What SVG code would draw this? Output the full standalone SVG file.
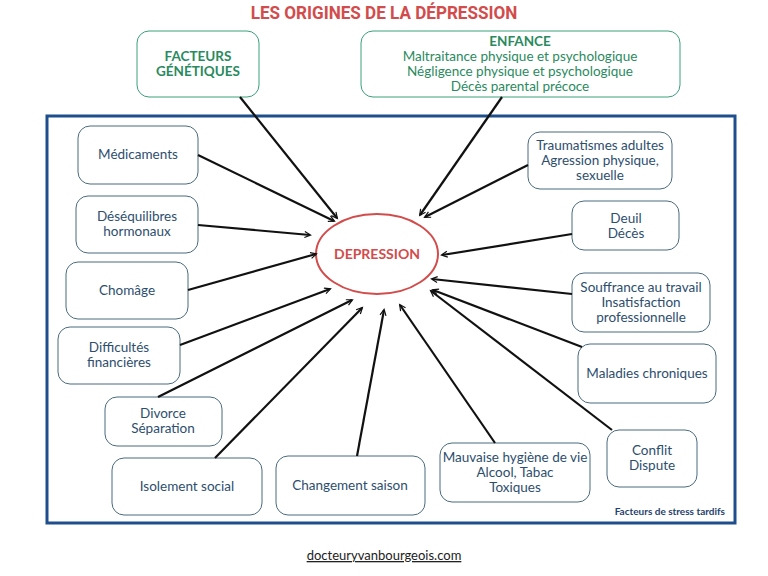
<svg xmlns="http://www.w3.org/2000/svg" width="768" height="576" viewBox="0 0 768 576">
<defs>
<marker id="ah" viewBox="0 0 10 10" refX="9" refY="5" markerWidth="6" markerHeight="6" orient="auto" markerUnits="userSpaceOnUse" overflow="visible"><path d="M0,0 L10,5 L0,10" fill="none" stroke="#111" stroke-width="2"/></marker>
<style>
.n{fill:#fff;stroke:#4a6a80;stroke-width:1}
.g{fill:#fff;stroke:#3aa07a;stroke-width:1}
.t{font-family:Lato,"Open Sans",sans-serif;font-size:13.5px;fill:#2d4e6e;text-anchor:middle}
.tg{font-family:Lato,"Open Sans",sans-serif;font-size:13.5px;fill:#2a8a5e;text-anchor:middle}
.c line{stroke:#111;stroke-width:2.2;marker-end:url(#ah)}
</style>
</defs>
<rect width="768" height="576" fill="#fff"/>
<text x="384" y="19" font-family="Roboto,'Liberation Sans',sans-serif" font-size="19" font-weight="bold" fill="#d24c4c" text-anchor="middle" transform="translate(384 0) scale(0.9 1) translate(-384 0)">LES ORIGINES DE LA DÉPRESSION</text>
<rect x="47" y="116" width="688" height="407" fill="none" stroke="#1f4e8c" stroke-width="3"/>
<g id="genetiques"><rect class="g" x="137" y="31" width="122" height="66" rx="12"/><text class="tg" font-weight="bold" x="198" y="61">FACTEURS</text><text class="tg" font-weight="bold" x="198" y="76">GÉNÉTIQUES</text></g>
<g id="enfance"><rect class="g" x="361" y="31" width="319" height="66" rx="12"/><text class="tg" font-weight="bold" x="520" y="46">ENFANCE</text><text class="tg" x="520" y="61">Maltraitance physique et psychologique</text><text class="tg" x="520" y="76">Négligence physique et psychologique</text><text class="tg" x="520" y="91">Décès parental précoce</text></g>
<g id="depression"><ellipse cx="377" cy="254" rx="61" ry="40" fill="#fff" stroke="#d24c4c" stroke-width="2"/><text x="377" y="259" font-family="Lato,'Open Sans',sans-serif" font-size="14" font-weight="bold" fill="#d24c4c" text-anchor="middle">DEPRESSION</text></g>
<g id="medicaments"><rect class="n" x="78" y="126" width="120" height="58" rx="12"/><text class="t" x="138" y="159">Médicaments</text></g>
<g id="hormonaux"><rect class="n" x="76" y="196" width="122" height="57" rx="12"/><text class="t" x="137" y="221">Déséquilibres</text><text class="t" x="137" y="236">hormonaux</text></g>
<g id="chomage"><rect class="n" x="66" y="262" width="122" height="57" rx="12"/><text class="t" x="127" y="295">Chomâge</text></g>
<g id="financieres"><rect class="n" x="58" y="327" width="122" height="57" rx="12"/><text class="t" x="119" y="352">Difficultés</text><text class="t" x="119" y="367">financières</text></g>
<g id="divorce"><rect class="n" x="105" y="397" width="117" height="49" rx="12"/><text class="t" x="163" y="418">Divorce</text><text class="t" x="163" y="433">Séparation</text></g>
<g id="isolement"><rect class="n" x="112" y="458" width="150" height="57" rx="12"/><text class="t" x="187" y="491">Isolement social</text></g>
<g id="saison"><rect class="n" x="276" y="456" width="149" height="59" rx="12"/><text class="t" x="350" y="490">Changement saison</text></g>
<g id="hygiene"><rect class="n" x="440" y="443" width="150" height="59" rx="12"/><text class="t" x="515" y="462">Mauvaise hygiène de vie</text><text class="t" x="515" y="477">Alcool, Tabac</text><text class="t" x="515" y="492">Toxiques</text></g>
<g id="conflit"><rect class="n" x="607" y="430" width="90" height="57" rx="12"/><text class="t" x="652" y="455">Conflit</text><text class="t" x="652" y="470">Dispute</text></g>
<g id="maladies"><rect class="n" x="578" y="344" width="138" height="59" rx="12"/><text class="t" x="647" y="378">Maladies chroniques</text></g>
<g id="souffrance"><rect class="n" x="572" y="273" width="138" height="59" rx="12"/><text class="t" x="641" y="292">Souffrance au travail</text><text class="t" x="641" y="307">Insatisfaction</text><text class="t" x="641" y="322">professionnelle</text></g>
<g id="deuil"><rect class="n" x="572" y="201" width="107" height="49" rx="12"/><text class="t" x="626" y="223">Deuil</text><text class="t" x="626" y="238">Décès</text></g>
<g id="traumatismes"><rect class="n" x="528" y="132" width="144" height="57" rx="12"/><text class="t" x="600" y="150">Traumatismes adultes</text><text class="t" x="600" y="165">Agression physique,</text><text class="t" x="600" y="180">sexuelle</text></g>
<g class="c" id="connectors">
<line x1="240" y1="97" x2="337" y2="218"/>
<line x1="502" y1="97" x2="420" y2="215"/>
<line x1="198" y1="155" x2="334" y2="221"/>
<line x1="198" y1="225" x2="310" y2="235"/>
<line x1="188" y1="290" x2="316" y2="254"/>
<line x1="180" y1="345" x2="330" y2="289"/>
<line x1="158" y1="397" x2="352" y2="300"/>
<line x1="215" y1="458" x2="362" y2="308"/>
<line x1="357" y1="456" x2="384" y2="310"/>
<line x1="495" y1="443" x2="400" y2="305"/>
<line x1="612" y1="430" x2="431" y2="291"/>
<line x1="582" y1="347" x2="433" y2="290"/>
<line x1="572" y1="294" x2="432" y2="279"/>
<line x1="572" y1="234" x2="442" y2="255"/>
<line x1="528" y1="165" x2="425" y2="217"/>
</g>
<text x="725" y="515" font-family="Lato,'Open Sans',sans-serif" font-size="10" font-weight="bold" fill="#1f3f6e" text-anchor="end">Facteurs de stress tardifs</text>
<text x="384" y="560" font-family="Lato,'Open Sans',sans-serif" font-size="13" fill="#222" text-anchor="middle" text-decoration="underline">docteuryvanbourgeois.com</text>
</svg>
